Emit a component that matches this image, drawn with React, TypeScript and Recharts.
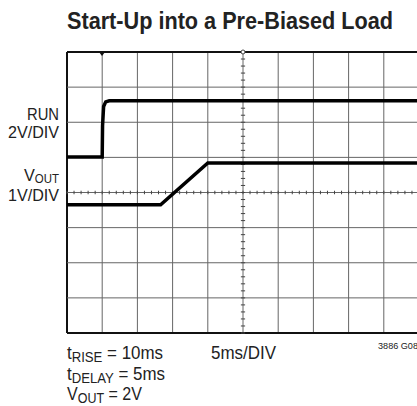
import { LineChart, Line, XAxis, YAxis, ReferenceLine, ReferenceDot } from 'recharts'

// time in ms (5ms/DIV, 10 divisions), levels in scope divisions (0 = bottom graticule)
const runTime = [0, 5, 5.05, 5.2, 5.5, 6, 50]
const runLevel = [5.01, 5.01, 5.9, 6.45, 6.58, 6.61, 6.61]
const voutTime = [0, 13.3, 20, 50]
const voutLevel = [3.65, 3.65, 4.84, 4.84]

const timeTicks = [0, 5, 10, 15, 20, 25, 30, 35, 40, 45, 50]
const divTicks = [0, 1, 2, 3, 4, 5, 6, 7, 8]

const runData = runTime.map((t, i) => ({ t, v: runLevel[i] }))
const voutData = voutTime.map((t, i) => ({ t, v: voutLevel[i] }))

// minor ticks on the center graticule lines (5 per division)
const minorX = Array.from({ length: 51 }, (_, i) => i)
const minorY = Array.from({ length: 41 }, (_, i) => i / 5)

const FONT = '"Liberation Sans", Arial, sans-serif'

const App = () => {
  return (
    <div style={{ position: 'fixed', left: 0, top: 0, width: 417, height: 406, overflow: 'hidden', background: '#fff' }}>
      <LineChart
        width={440}
        height={406}
        margin={{ top: 52, right: 21, left: 67, bottom: 73 }}
      >
        <XAxis type="number" dataKey="t" domain={[0, 50]} ticks={timeTicks} height={0} tick={false} axisLine={false} tickLine={false} allowDuplicatedCategory={false} />
        <YAxis type="number" domain={[0, 8]} ticks={divTicks} width={0} tick={false} axisLine={false} tickLine={false} />

        {/* graticule */}
        {timeTicks.map((t) => (
          <ReferenceLine key={'gx' + t} x={t} stroke={t === 0 ? '#111' : '#666'} strokeWidth={t === 0 ? 2 : 1} />
        ))}
        {divTicks.map((d) => (
          <ReferenceLine key={'gy' + d} y={d} stroke={d === 0 || d === 8 ? '#111' : '#666'} strokeWidth={d === 0 || d === 8 ? 2 : 1} />
        ))}

        {minorX.map((t) => (
          <ReferenceLine key={'mx' + t} segment={[{ x: t, y: 3.95 }, { x: t, y: 4.05 }]} stroke="#444" strokeWidth={1} />
        ))}
        {minorY.map((d) => (
          <ReferenceLine key={'my' + d} segment={[{ x: 24.7, y: d }, { x: 25.3, y: d }]} stroke="#444" strokeWidth={1} />
        ))}

        <Line data={runData} dataKey="v" type="linear" stroke="#000" strokeWidth={3.5} dot={false} isAnimationActive={false} />
        <Line data={voutData} dataKey="v" type="linear" stroke="#000" strokeWidth={3.5} dot={false} isAnimationActive={false} />

        <ReferenceDot x={25} y={8} r={2} fill="#fff" stroke="#444" strokeWidth={1} />
      </LineChart>

      <svg width={417} height={406} style={{ position: 'absolute', left: 0, top: 0, pointerEvents: 'none' }}>
        <polygon points="99,52 105,52 102,56" fill="#111" />
        <text x={67} y={29} textLength={326} lengthAdjust="spacingAndGlyphs" fontFamily={FONT} fontWeight="bold" fontSize={24} fill="#222">
          Start-Up into a Pre-Biased Load
        </text>

        <g fontFamily={FONT} fontSize={17} fill="#222">
          <text x={27} y={120} textLength={32} lengthAdjust="spacingAndGlyphs">RUN</text>
          <text x={8} y={138} textLength={51} lengthAdjust="spacingAndGlyphs">2V/DIV</text>
          <text x={24} y={181} textLength={35} lengthAdjust="spacingAndGlyphs">
            V<tspan fontSize={12} dy={2}>OUT</tspan>
          </text>
          <text x={8} y={201} textLength={51} lengthAdjust="spacingAndGlyphs">1V/DIV</text>
        </g>

        <g fontFamily={FONT} fontSize={18} fill="#222">
          <text x={67} y={359} textLength={96} lengthAdjust="spacingAndGlyphs">
            t<tspan fontSize={14} dy={3}>RISE</tspan><tspan dy={-3}> = 10ms</tspan>
          </text>
          <text x={67} y={380} textLength={98} lengthAdjust="spacingAndGlyphs">
            t<tspan fontSize={14} dy={3}>DELAY</tspan><tspan dy={-3}> = 5ms</tspan>
          </text>
          <text x={67} y={400} textLength={75} lengthAdjust="spacingAndGlyphs">
            V<tspan fontSize={14} dy={3}>OUT</tspan><tspan dy={-3}> = 2V</tspan>
          </text>
          <text x={211} y={359} textLength={65} lengthAdjust="spacingAndGlyphs">5ms/DIV</text>
          <text x={378} y={349} fontSize={9} textLength={40} lengthAdjust="spacingAndGlyphs">3886 G08</text>
        </g>
      </svg>
    </div>
  )
}

export default App
